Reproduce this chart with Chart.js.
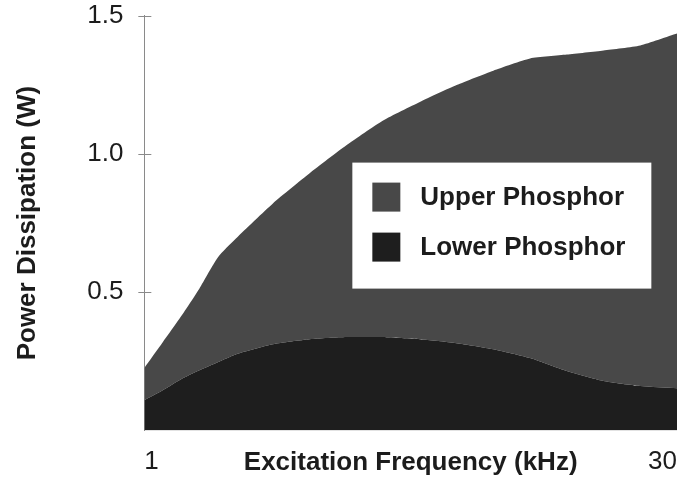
<!DOCTYPE html>
<html>
<head>
<meta charset="utf-8">
<script src="https://cdn.jsdelivr.net/npm/chart.js@4.4.0/dist/chart.umd.min.js"></script>
<style>
    body { margin: 0; background: #ffffff; }
    #wrap { width: 687px; height: 482px; }
</style>
</head>
<body>
<div id="wrap"><canvas id="powerChart"></canvas></div>
<script>
var frequencies = [1, 2, 3, 4, 5, 6, 8, 10, 12, 14, 16, 18, 20, 22, 24, 26, 28, 30];
// Power dissipated in the lower phosphor (W)
var lowerPower = [0.110, 0.146, 0.186, 0.218, 0.247, 0.276, 0.312, 0.330, 0.338, 0.338, 0.330, 0.316, 0.294, 0.262, 0.215, 0.179, 0.161, 0.153];
// Power dissipated in the upper phosphor (W), stacked on top of the lower one
var upperPower = [0.116, 0.173, 0.227, 0.296, 0.379, 0.419, 0.509, 0.600, 0.693, 0.783, 0.858, 0.933, 1.007, 1.083, 1.144, 1.195, 1.231, 1.282];
// Tick labels for both axes
var xTicks = [1, 30];
var yTicks = [0.5, 1.0, 1.5];

// Colours and fonts
var upperColor = "#484848";
var lowerColor = "#1e1e1e";
var textColor = "#1c1c1c";
var axisColor = "#8a8a8a";
Chart.defaults.font.family = "'Liberation Sans', Arial, sans-serif";
Chart.defaults.color = textColor;

// Turns the frequency list and a series into {x, y} points
function toPoints(values) {
    return frequencies.map(function (f, i) {
        return { x: f, y: values[i] };
    });
}

// Draws the y tick marks (across the axis line) and the boxed legend inside the plot
var boxLegend = {
    id: "boxLegend",
    afterDraw: function (chart) {
        var ctx = chart.ctx;
        var area = chart.chartArea;
        var yScale = chart.scales.y;

        // short tick marks crossing the y axis
        ctx.save();
        ctx.strokeStyle = axisColor;
        ctx.lineWidth = 1;
        yTicks.forEach(function (v) {
            var py = Math.round(yScale.getPixelForValue(v)) + 0.5;
            ctx.beginPath();
            ctx.moveTo(area.left - 6, py);
            ctx.lineTo(area.left + 7, py);
            ctx.stroke();
        });

        // white legend box
        var bx = area.left + 208;
        var by = area.top + 147;
        ctx.fillStyle = "#ffffff";
        ctx.fillRect(bx, by, 299, 126);

        // one row per series, upper first
        var rows = [chart.data.datasets[1], chart.data.datasets[0]];
        ctx.font = "bold 26px 'Liberation Sans', Arial, sans-serif";
        ctx.textBaseline = "middle";
        ctx.textAlign = "left";
        rows.forEach(function (ds, i) {
            var rowY = by + 35 + i * 50;
            ctx.fillStyle = ds.backgroundColor;
            ctx.fillRect(bx + 20, rowY - 15, 28, 29);
            ctx.fillStyle = textColor;
            ctx.fillText(ds.label, bx + 68, rowY);
        });
        ctx.restore();
    }
};

new Chart("powerChart", {
    type: "line",
    data: {
        datasets: [{
            label: "Lower Phosphor",
            data: toPoints(lowerPower),
            backgroundColor: lowerColor,
            borderWidth: 0,
            pointRadius: 0,
            tension: 0.2,
            fill: "origin"
        }, {
            label: "Upper Phosphor",
            data: toPoints(upperPower),
            backgroundColor: upperColor,
            borderWidth: 0,
            pointRadius: 0,
            tension: 0.2,
            fill: "-1"
        }]
    },
    options: {
        responsive: true,
        maintainAspectRatio: false,
        animation: false,
        layout: { padding: { top: 0, right: 10, bottom: 4, left: 0 } },
        plugins: {
            legend: { display: false },
            tooltip: { enabled: false }
        },
        scales: {
            x: {
                type: "linear",
                min: 1,
                max: 30,
                afterBuildTicks: function (scale) {
                    scale.ticks = xTicks.map(function (v) { return { value: v }; });
                },
                ticks: {
                    align: "inner",
                    padding: 0,
                    maxRotation: 0,
                    font: { size: 26 },
                    color: textColor
                },
                // invisible tick length gives the gap under the plot
                grid: { display: false, drawTicks: true, tickLength: 16 },
                border: { display: false },
                title: {
                    display: true,
                    text: "Excitation Frequency (kHz)",
                    font: { size: 26, weight: "bold" },
                    color: textColor,
                    // pulls the title up onto the same row as the tick labels
                    padding: { top: -31, bottom: 0 }
                }
            },
            y: {
                stacked: true,
                min: 0,
                max: 1.5,
                afterBuildTicks: function (scale) {
                    scale.ticks = yTicks.map(function (v) { return { value: v }; });
                },
                ticks: {
                    padding: 0,
                    font: { size: 26 },
                    color: textColor,
                    callback: function (v) { return v.toFixed(1); }
                },
                grid: {
                    drawOnChartArea: false,
                    drawTicks: true,
                    tickLength: 21,
                    tickColor: "rgba(0,0,0,0)"
                },
                border: { display: true, color: axisColor, width: 1 },
                title: {
                    display: true,
                    text: "Power Dissipation (W)",
                    font: { size: 26, weight: "bold" },
                    color: textColor,
                    padding: { top: 12, bottom: 44 }
                }
            }
        }
    },
    plugins: [boxLegend]
});
</script>
</body>
</html>
